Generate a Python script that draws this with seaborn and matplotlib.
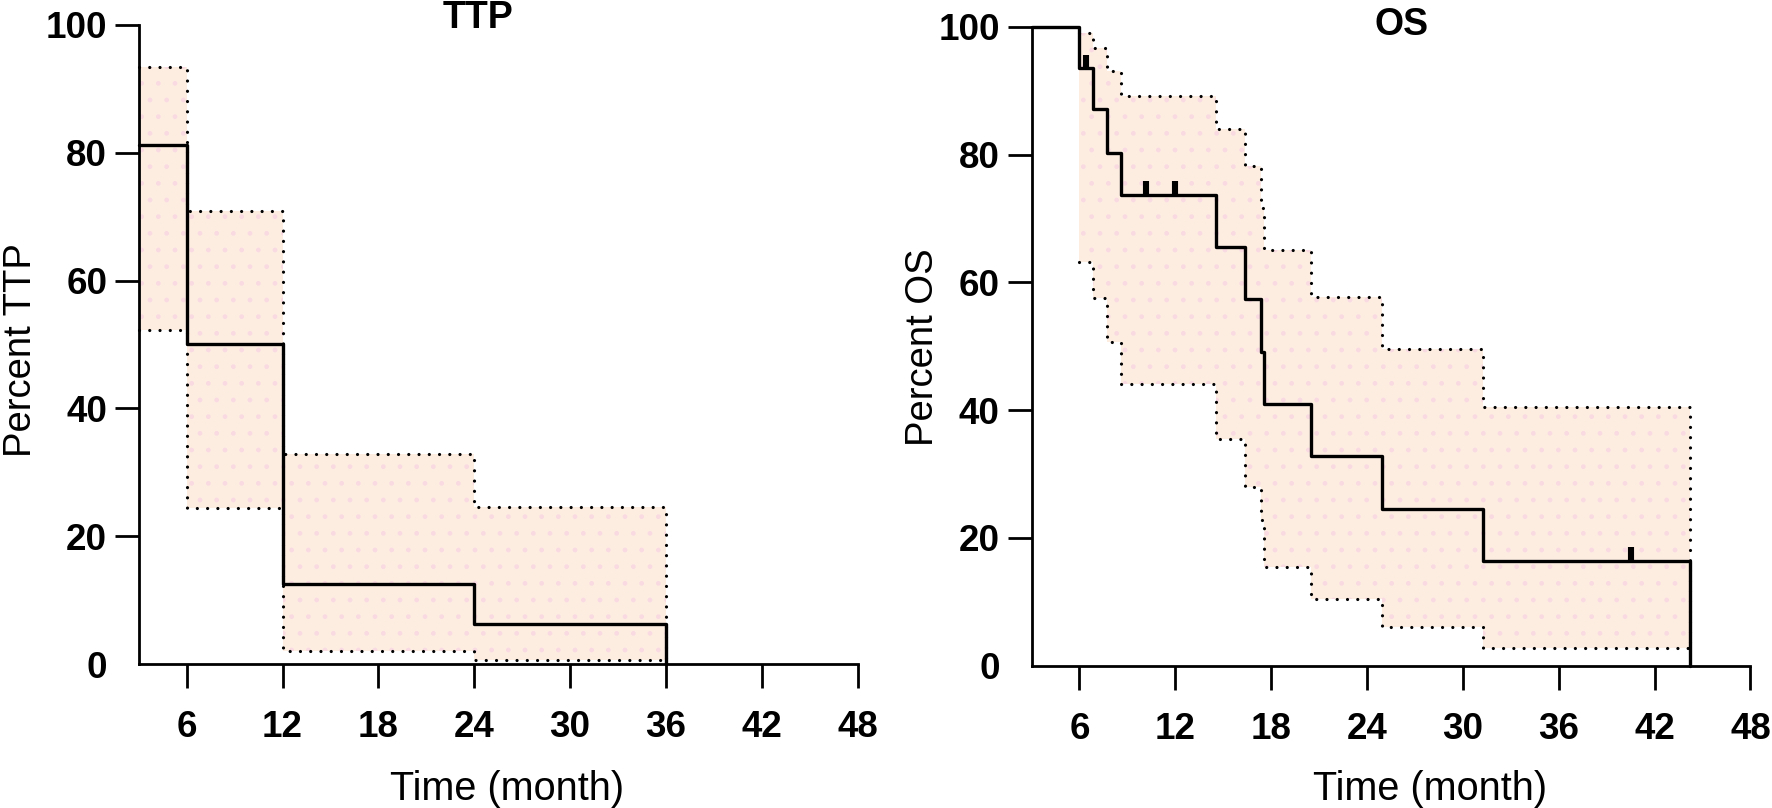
import numpy as np
import seaborn as sns
import matplotlib.pyplot as plt

# ---- datos ----
# TTP (Kaplan-Meier con IC 95%)
ttp_time = [3, 6, 12, 24, 36]
ttp_surv = [81.25, 50.0, 12.5, 6.25, 0.0]
ttp_upper = [93.4, 70.9, 32.8, 24.6, 0.6]
ttp_lower = [52.3, 24.4, 2.0, 0.6, 0.6]

# OS
os_time = [3, 6.0, 6.87, 7.7, 8.58, 14.55, 16.36, 17.34, 17.55, 20.49, 24.97, 31.27, 44.2]
os_surv = [100, 93.5, 87.1, 80.3, 73.7, 65.5, 57.4, 49.1, 41.0, 32.8, 24.6, 16.4, 0.0]
os_ci_time = [6.0, 6.87, 7.7, 8.58, 14.55, 16.36, 17.34, 17.55, 20.49, 24.97, 31.27, 44.2]
os_upper = [99.0, 96.6, 93.1, 89.1, 84.0, 78.2, 71.6, 65.1, 57.7, 49.5, 40.5, 2.7]
os_lower = [63.2, 57.5, 50.7, 44.1, 35.4, 28.0, 22.8, 15.5, 10.4, 6.0, 2.7, 2.7]
os_censor = [6.39, 10.17, 11.98, 40.5]

x_ticks = [6, 12, 18, 24, 30, 36, 42, 48]
y_ticks = [0, 20, 40, 60, 80, 100]

sns.set_style("ticks")
plt.rcParams['font.family'] = ['Liberation Sans', 'DejaVu Sans']
plt.rcParams['hatch.linewidth'] = 1.0
for key in ['text.color', 'axes.labelcolor', 'xtick.color', 'ytick.color', 'axes.edgecolor']:
    plt.rcParams[key] = 'black'

fill_color = '#fdede1'
dot_color = '#f9dae2'
dotted = (0, (0.01, 3.2))

fig = plt.figure(figsize=(17.72, 8.08), dpi=100)
ax1 = fig.add_axes([138.8 / 1772, (808 - 664) / 808, 718.8 / 1772, 639 / 808])
ax2 = fig.add_axes([1031.5 / 1772, (808 - 665.7) / 808, 718.9 / 1772, 639 / 808])


def ci_band(ax, t, lo, hi):
    # relleno del intervalo de confianza con puntos rosados
    hi_fill = list(hi[:-1]) + [hi[-2]]
    ax.fill_between(t, lo, hi_fill, step='post', facecolor=fill_color,
                    edgecolor=dot_color, hatch='.', linewidth=0, zorder=1)
    sns.lineplot(x=t, y=hi, ax=ax, drawstyle='steps-post', estimator=None, sort=False,
                 color='black', linewidth=2.3, linestyle=dotted,
                 dash_capstyle='round', zorder=3, clip_on=False)
    sns.lineplot(x=t, y=lo, ax=ax, drawstyle='steps-post', estimator=None, sort=False,
                 color='black', linewidth=2.3, linestyle=dotted,
                 dash_capstyle='round', zorder=3, clip_on=False)


def km_line(ax, t, s):
    sns.lineplot(x=t, y=s, ax=ax, drawstyle='steps-post', estimator=None, sort=False,
                 color='black', linewidth=2.4, zorder=4, clip_on=False)


def style_axes(ax, title, title_x, title_y, ylabel, xlab_pos, ylab_pos):
    ax.set_xlim(3, 48)
    ax.set_ylim(0, 100)
    ax.set_xticks(x_ticks)
    ax.set_yticks(y_ticks)
    sns.despine(ax=ax)
    for side in ['left', 'bottom']:
        ax.spines[side].set_linewidth(2.0)
        ax.spines[side].set_color('black')
        ax.spines[side].set_capstyle('projecting')
    ax.tick_params(axis='both', length=17.3, width=2.0, color='black',
                   labelcolor='black', direction='out')
    ax.tick_params(axis='x', pad=16)
    ax.tick_params(axis='y', pad=5.5)
    for lab in ax.get_xticklabels() + ax.get_yticklabels():
        lab.set_fontsize(26.5)
        lab.set_fontweight('bold')
    ax.yaxis.get_major_ticks()[0].tick1line.set_visible(False)
    ax.set_xlabel('Time (month)', fontsize=28.5, color='black')
    ax.xaxis.label.set_va('baseline')
    ax.xaxis.set_label_coords(*xlab_pos)
    ax.set_ylabel(ylabel, fontsize=27.5, color='black')
    ax.yaxis.label.set_va('baseline')
    ax.yaxis.set_label_coords(*ylab_pos)
    ax.text(title_x, title_y, title, transform=ax.transAxes, ha='center',
            va='baseline', fontsize=27, fontweight='bold', color='black')
    ax.grid(False)


# ---- TTP ----
ci_band(ax1, ttp_time, ttp_lower, ttp_upper)
km_line(ax1, ttp_time, ttp_surv)
style_axes(ax1, 'TTP', 0.472, 0.9953, 'Percent TTP', (0.513, -0.2128), (-0.1505, 0.492))

# ---- OS ----
ci_band(ax2, os_ci_time, os_lower, os_upper)
km_line(ax2, os_time, os_surv)
# marcas de censura sobre la curva
idx = np.searchsorted(os_time, os_censor, side='right') - 1
censor_y = np.array(os_surv)[idx]
ax2.vlines(os_censor, censor_y, censor_y + 2.1, color='black', linewidth=4.4, zorder=5)
style_axes(ax2, 'OS', 0.515, 0.987, 'Percent OS', (0.555, -0.2102), (-0.137, 0.4987))

fig.savefig('out.png', dpi=100)
